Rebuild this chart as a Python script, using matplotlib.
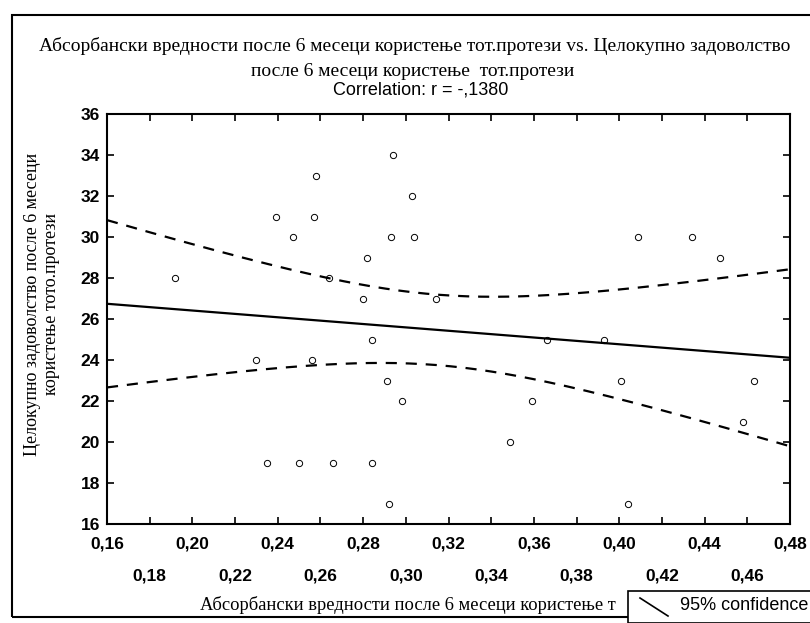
import numpy as np
import matplotlib
matplotlib.use("Agg")
from matplotlib import pyplot as plt
from matplotlib.lines import Line2D
from matplotlib.patches import Rectangle

# абсорбанса и задоволство после 6 месеци
absorb = [0.258, 0.294, 0.303, 0.239, 0.257, 0.247, 0.293, 0.304, 0.282, 0.192,
          0.280, 0.314, 0.264, 0.409, 0.434, 0.447, 0.284, 0.230, 0.256, 0.291,
          0.298, 0.235, 0.250, 0.266, 0.284, 0.292, 0.366, 0.393, 0.401, 0.463,
          0.359, 0.458, 0.349, 0.404]
satisf = [33, 34, 32, 31, 31, 30, 30, 30, 29, 28,
          27, 27, 28, 30, 30, 29, 25, 24, 24, 23,
          22, 19, 19, 19, 19, 17, 25, 25, 23, 23,
          22, 21, 20, 17]

xticks = [0.16, 0.18, 0.20, 0.22, 0.24, 0.26, 0.28, 0.30, 0.32, 0.34,
          0.36, 0.38, 0.40, 0.42, 0.44, 0.46, 0.48]
yticks = [16, 18, 20, 22, 24, 26, 28, 30, 32, 34, 36]

title1 = "Абсорбански вредности после 6 месеци користење тот.протези vs. Целокупно задоволство"
title2 = "после 6 месеци користење  тот.протези"
corr_text = "Correlation: r = -,1380"
# натписот на x оската е покриен од легендата
xlabel = "Абсорбански вредности после 6 месеци користење т"
ylabel = "Целокупно задоволство после 6 месеци\nкористење тото.протези"

x = np.array(absorb)
y = np.array(satisf)
n = len(x)

# линеарна регресија + 95% интервал
b, a = np.polyfit(x, y, 1)
resid = y - (a + b * x)
s = np.sqrt(np.sum(resid ** 2) / (n - 2))
sxx = np.sum((x - x.mean()) ** 2)
try:
    from scipy import stats
    tcrit = stats.t.ppf(0.975, n - 2)
except ImportError:
    tcrit = 2.04
xx = np.linspace(0.16, 0.48, 200)
yy = a + b * xx
hw = tcrit * s * np.sqrt(1.0 / n + (xx - x.mean()) ** 2 / sxx)

serif = ["Liberation Serif", "DejaVu Serif"]
sans = ["Liberation Sans", "DejaVu Sans"]

fig = plt.figure(figsize=(8.1, 6.23), dpi=100)
ax = fig.add_axes([107 / 810, 1 - 524 / 623, 683 / 810, 410 / 623])

ax.plot(xx, yy, color="black", lw=1.6)
ax.plot(xx, yy + hw, color="black", lw=1.6, dashes=(5, 4))
ax.plot(xx, yy - hw, color="black", lw=1.6, dashes=(5, 4))
ax.plot(x, y, "o", ms=4.5, mfc="none", mec="black", mew=0.7)

ax.set_xlim(0.16, 0.48)
ax.set_ylim(16, 36)
ax.set_xticks(xticks)
ax.set_yticks(yticks)
ax.set_xticklabels([("%.2f" % t).replace(".", ",") for t in xticks],
                   fontfamily=sans, fontsize=12.5, fontweight="bold")
ax.set_yticklabels([str(t) for t in yticks], fontfamily=sans, fontsize=12.5, fontweight="bold")
ax.tick_params(direction="in", top=True, right=True, length=5, width=1.2)
ax.tick_params(axis="y", pad=5)
# ознаките на x оската во два реда
for i, t in enumerate(ax.xaxis.get_major_ticks()):
    t.set_pad(9 if i % 2 == 0 else 32)
for sp in ax.spines.values():
    sp.set_linewidth(1.5)

fig.text(415 / 810, 1 - 46 / 623, title1, ha="center", va="center",
         fontfamily=serif, fontsize=14)
fig.text(413 / 810, 1 - 71 / 623, title2, ha="center", va="center",
         fontfamily=serif, fontsize=14)
fig.text(421 / 810, 1 - 90 / 623, corr_text, ha="center", va="center",
         fontfamily=sans, fontsize=13)
fig.text(42 / 810, 1 - 304 / 623, ylabel, ha="center", va="center", rotation=90,
         fontfamily=serif, fontsize=13, multialignment="center", linespacing=1.15)
fig.text(200 / 810, 1 - 605 / 623, xlabel, ha="left", va="center",
         fontfamily=serif, fontsize=13.3)

# рамка околу сликата
fig.add_artist(Rectangle((12 / 810, 1 - 617 / 623), 1.0, 602 / 623,
                         transform=fig.transFigure, fill=False, lw=1.5, ec="black"))

# легенда
fig.add_artist(Rectangle((628 / 810, 0), 190 / 810, 1 - 591 / 623,
                         transform=fig.transFigure, fc="white", ec="black", lw=1.2, zorder=5))
fig.add_artist(Line2D([640 / 810, 668 / 810], [1 - 598 / 623, 1 - 616 / 623],
                      transform=fig.transFigure, color="black", lw=1.2, zorder=6))
fig.text(680 / 810, 1 - 606 / 623, "95% confidence", ha="left", va="center",
         fontfamily=sans, fontsize=13, zorder=6)

fig.savefig("out.png", dpi=100)
